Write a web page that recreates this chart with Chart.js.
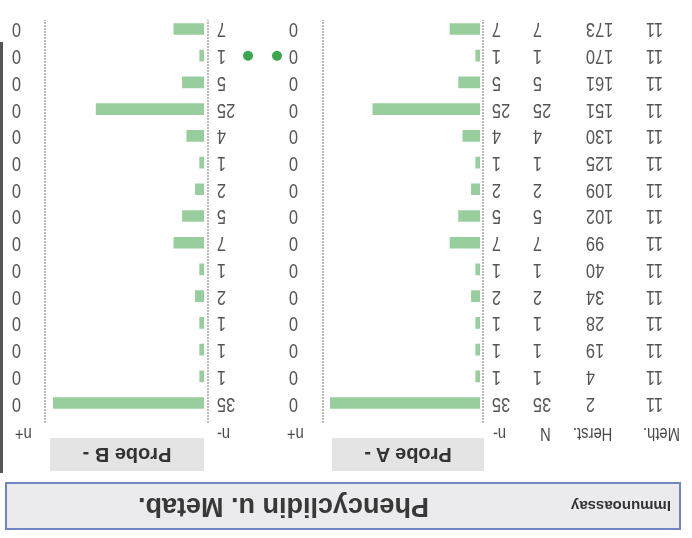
<!DOCTYPE html>
<html>
<head>
<meta charset="utf-8">
<script src="https://cdn.jsdelivr.net/npm/chart.js@4/dist/chart.umd.min.js"></script>
<style>
  html, body { margin: 0; padding: 0; background: #fff; }
  #page {
    position: relative; width: 692px; height: 538px; overflow: hidden;
    transform: rotate(180deg); font-family: 'Liberation Sans', Arial, sans-serif;
  }
  #page canvas { position: absolute; left: 0; top: 0; }
  .title {
    position: absolute; left: 11px; top: 8px; width: 672px; height: 44px;
    background: #ebebed; border: 2px solid #7285c2;
  }
  .title .kind { position: absolute; left: 8px; top: 13px; font-size: 15px; font-weight: bold; color: #333; }
  .title .name { position: absolute; left: 250px; top: 6px; font-size: 27px; font-weight: bold; color: #383838; }
  .probe {
    position: absolute; top: 67px; height: 33px; line-height: 33px; background: #e4e4e5;
    font-size: 20px; font-weight: bold; color: #333; text-align: center;
  }
  .edge { position: absolute; left: 689px; top: 65px; width: 3px; height: 431px; background: #555; }
</style>
</head>
<body>
<div id="page">
  <div class="title"><span class="kind">Immunoassay</span><span class="name">Phencyclidin u. Metab.</span></div>
  <div class="probe" style="left:208px;width:152px">Probe A -</div>
  <div class="probe" style="left:488px;width:154px">Probe B -</div>
  <div class="edge"></div>
  <canvas id="chartA" width="692" height="538"></canvas>
  <canvas id="chartB" width="692" height="538"></canvas>
</div>
<script>
// table rows, top to bottom
const meth = [11, 11, 11, 11, 11, 11, 11, 11, 11, 11, 11, 11, 11, 11, 11];
const herst = [2, 4, 19, 28, 34, 40, 99, 102, 109, 125, 130, 151, 161, 170, 173];
const nTotal = [35, 1, 1, 1, 2, 1, 7, 5, 2, 1, 4, 25, 5, 1, 7];
const probeANeg = [35, 1, 1, 1, 2, 1, 7, 5, 2, 1, 4, 25, 5, 1, 7];
const probeAPos = [0, 0, 0, 0, 0, 0, 0, 0, 0, 0, 0, 0, 0, 0, 0];
const probeBNeg = [35, 1, 1, 1, 2, 1, 7, 5, 2, 1, 4, 25, 5, 1, 7];
const probeBPos = [0, 0, 0, 0, 0, 0, 0, 0, 0, 0, 0, 0, 0, 0, 0];
const markedRows = [170];
const maxCount = 35;

const numFont = "20px 'Liberation Sans', Arial, sans-serif";
const headFont = "18px 'Liberation Sans', Arial, sans-serif";
const narrow = 0.82; // the scan uses a condensed face
const barGreen = 'rgb(152, 206, 158)';

function narrowText(ctx, text, x, y) {
  ctx.save();
  ctx.translate(x, y);
  ctx.scale(narrow, 1);
  ctx.fillText(text, 0, 0);
  ctx.restore();
}

// text columns drawn next to the bars, right aligned at x
function tableText(columns, lines, dots) {
  return {
    id: 'tableText',
    afterDatasetsDraw(chart) {
      const ctx = chart.ctx;
      const y = chart.scales.y;
      ctx.save();
      // vertical rules
      ctx.strokeStyle = '#8c8c8c';
      ctx.lineWidth = 1.2;
      ctx.setLineDash([2, 1]);
      lines.forEach(x => {
        ctx.beginPath();
        ctx.moveTo(x, 115);
        ctx.lineTo(x, 518);
        ctx.stroke();
      });
      ctx.setLineDash([]);
      ctx.textAlign = 'right';
      ctx.textBaseline = 'middle';
      columns.forEach(col => {
        ctx.fillStyle = '#4a4a4a';
        ctx.font = headFont;
        narrowText(ctx, col.head, col.headX, 105);
        ctx.fillStyle = '#555';
        ctx.font = numFont;
        col.values.forEach((v, i) => narrowText(ctx, String(v), col.x, y.getPixelForValue(i)));
      });
      if (dots) {
        ctx.fillStyle = 'rgb(58, 166, 78)';
        herst.forEach((h, i) => {
          if (!markedRows.includes(h)) return;
          dots.forEach(x => {
            ctx.beginPath();
            ctx.arc(x, y.getPixelForValue(i), 5, 0, Math.PI * 2);
            ctx.fill();
          });
        });
      }
      ctx.restore();
    }
  };
}

function probeChart(id, values, padLeft, padRight, plugin) {
  return new Chart(document.getElementById(id), {
    type: 'bar',
    data: {
      labels: herst.map(String),
      datasets: [{
        data: values,
        backgroundColor: barGreen,
        borderWidth: 0,
        barThickness: 11
      }]
    },
    options: {
      indexAxis: 'y',
      responsive: false,
      animation: false,
      layout: { padding: { left: padLeft, right: padRight, top: 121.6, bottom: 15.6 } },
      scales: {
        x: { display: false, min: 0, max: maxCount },
        y: { display: false }
      },
      plugins: { legend: { display: false }, tooltip: { enabled: false } }
    },
    plugins: [plugin]
  });
}

probeChart('chartA', probeANeg, 212, 330, tableText([
  { head: 'Meth.', headX: 49, x: 46, values: meth },
  { head: 'Herst.', headX: 119, x: 106, values: herst },
  { head: 'N', headX: 152, x: 159, values: nTotal },
  { head: 'n-', headX: 199, x: 200, values: probeANeg },
  { head: 'n+', headX: 405, x: 403, values: probeAPos }
], [209, 369], [415, 444]));

probeChart('chartB', probeBNeg, 488, 53, tableText([
  { head: 'n-', headX: 475, x: 475, values: probeBNeg },
  { head: 'n+', headX: 677, x: 680, values: probeBPos }
], [484, 647], null));
</script>
</body>
</html>
